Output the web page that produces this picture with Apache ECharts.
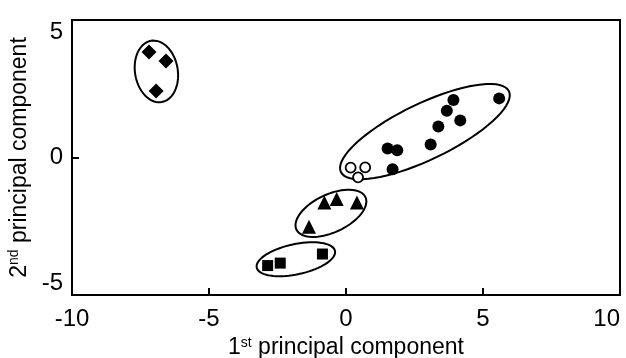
<!DOCTYPE html>
<html>
<head>
<meta charset="utf-8">
<script src="https://cdn.jsdelivr.net/npm/echarts@6/dist/echarts.min.js"></script>
<style>
  html, body { margin: 0; padding: 0; background: #fff; }
  #main { width: 626px; height: 358px; }
</style>
</head>
<body>
<div id="main"></div>
<script>
// PCA scores
var diamonds = [[-7.19, 3.84], [-6.57, 3.51], [-6.93, 2.42]];
var filledCircles = [[3.92, 2.09], [5.59, 2.15], [3.68, 1.70], [4.17, 1.35], [3.37, 1.13],
                     [3.09, 0.47], [1.52, 0.33], [1.87, 0.26], [1.70, -0.43]];
var openCircles = [[0.17, -0.37], [0.70, -0.36], [0.44, -0.72]];
var triangles = [[-0.79, -1.64], [-0.34, -1.51], [0.40, -1.64], [-1.35, -2.52]];
var squares = [[-2.86, -3.93], [-2.40, -3.84], [-0.86, -3.51]];

// group ellipses: [centerX, centerY, semiAxisA, semiAxisB, angle (deg)]
var ellipses = [
  [-6.92, 3.13, 1.13, 0.78, 100],
  [2.88, 0.94, 3.40, 1.02, 25.6],
  [-0.55, -2.03, 1.39, 0.69, 25],
  [-1.83, -3.70, 1.46, 0.55, 12]
];

var xTicks = [-10, -5, 0, 5, 10];
var yTicks = [-5, 0, 5];

var font = 'Liberation Sans, Arial, sans-serif';

var myChart = echarts.init(document.getElementById('main'));

function ellipseItem(params, api) {
  var cx = api.value(0), cy = api.value(1), a = api.value(2), b = api.value(3);
  var t = api.value(4) * Math.PI / 180;
  var pts = [];
  for (var i = 0; i < 72; i++) {
    var s = i / 72 * Math.PI * 2;
    var ex = a * Math.cos(s), ey = b * Math.sin(s);
    pts.push(api.coord([cx + ex * Math.cos(t) - ey * Math.sin(t),
                        cy + ex * Math.sin(t) + ey * Math.cos(t)]));
  }
  return {
    type: 'polygon',
    shape: { points: pts, smooth: 0 },
    style: { fill: 'none', stroke: '#000', lineWidth: 2 }
  };
}

var dot = { color: '#000', opacity: 1 };

var option = {
  animation: false,
  grid: {
    left: 72, right: 6, top: 20, bottom: 63,
    outerBoundsMode: 'none', containLabel: false,
    show: true, borderColor: '#000', borderWidth: 2
  },
  xAxis: {
    type: 'value', min: -10, max: 10, interval: 5,
    name: '1{sup|st} principal component',
    nameLocation: 'middle', nameGap: 36,
    nameTextStyle: {
      fontFamily: font, fontSize: 23, color: '#000',
      rich: { sup: { fontFamily: font, fontSize: 14, color: '#000', verticalAlign: 'top', padding: [0, 0, 10, 0] } }
    },
    axisLine: { onZero: false, lineStyle: { color: '#000', width: 2 } },
    axisTick: { inside: true, length: 7, lineStyle: { color: '#000', width: 2 } },
    splitLine: { show: false },
    axisLabel: {
      fontFamily: font, fontSize: 24, color: '#000', margin: 12,
      alignMaxLabel: 'right',
      formatter: function (v) { return xTicks.indexOf(v) >= 0 ? String(v) : ''; }
    }
  },
  yAxis: {
    type: 'value', min: -5, max: 5, interval: 5,
    name: '2{sup|nd} principal component',
    nameLocation: 'middle', nameGap: 31, nameRotate: 90,
    nameTextStyle: {
      fontFamily: font, fontSize: 23, color: '#000',
      rich: { sup: { fontFamily: font, fontSize: 14, color: '#000', verticalAlign: 'top', padding: [0, 0, 10, 0] } }
    },
    axisLine: { onZero: false, lineStyle: { color: '#000', width: 2 } },
    axisTick: { inside: true, length: 7, lineStyle: { color: '#000', width: 2 } },
    splitLine: { show: false },
    axisLabel: {
      fontFamily: font, fontSize: 24, color: '#000', margin: 9,
      verticalAlignMaxLabel: 'top', verticalAlignMinLabel: 'bottom',
      formatter: function (v) { return yTicks.indexOf(v) >= 0 ? String(v) : ''; }
    }
  },
  series: [
    {
      type: 'custom', renderItem: ellipseItem, data: ellipses,
      encode: { x: 0, y: 1 }, silent: true, z: 1
    },
    { type: 'scatter', data: diamonds, symbol: 'diamond', symbolSize: 15, itemStyle: dot, z: 2 },
    { type: 'scatter', data: filledCircles, symbol: 'circle', symbolSize: 12, itemStyle: dot, z: 2 },
    { type: 'scatter', data: openCircles, symbol: 'circle', symbolSize: 10,
      itemStyle: { color: '#fff', opacity: 1, borderColor: '#000', borderWidth: 1.8 }, z: 2 },
    { type: 'scatter', data: triangles, symbol: 'triangle', symbolSize: 14, itemStyle: dot, z: 2 },
    { type: 'scatter', data: squares, symbol: 'rect', symbolSize: 11, itemStyle: dot, z: 2 }
  ]
};

myChart.setOption(option);
</script>
</body>
</html>
